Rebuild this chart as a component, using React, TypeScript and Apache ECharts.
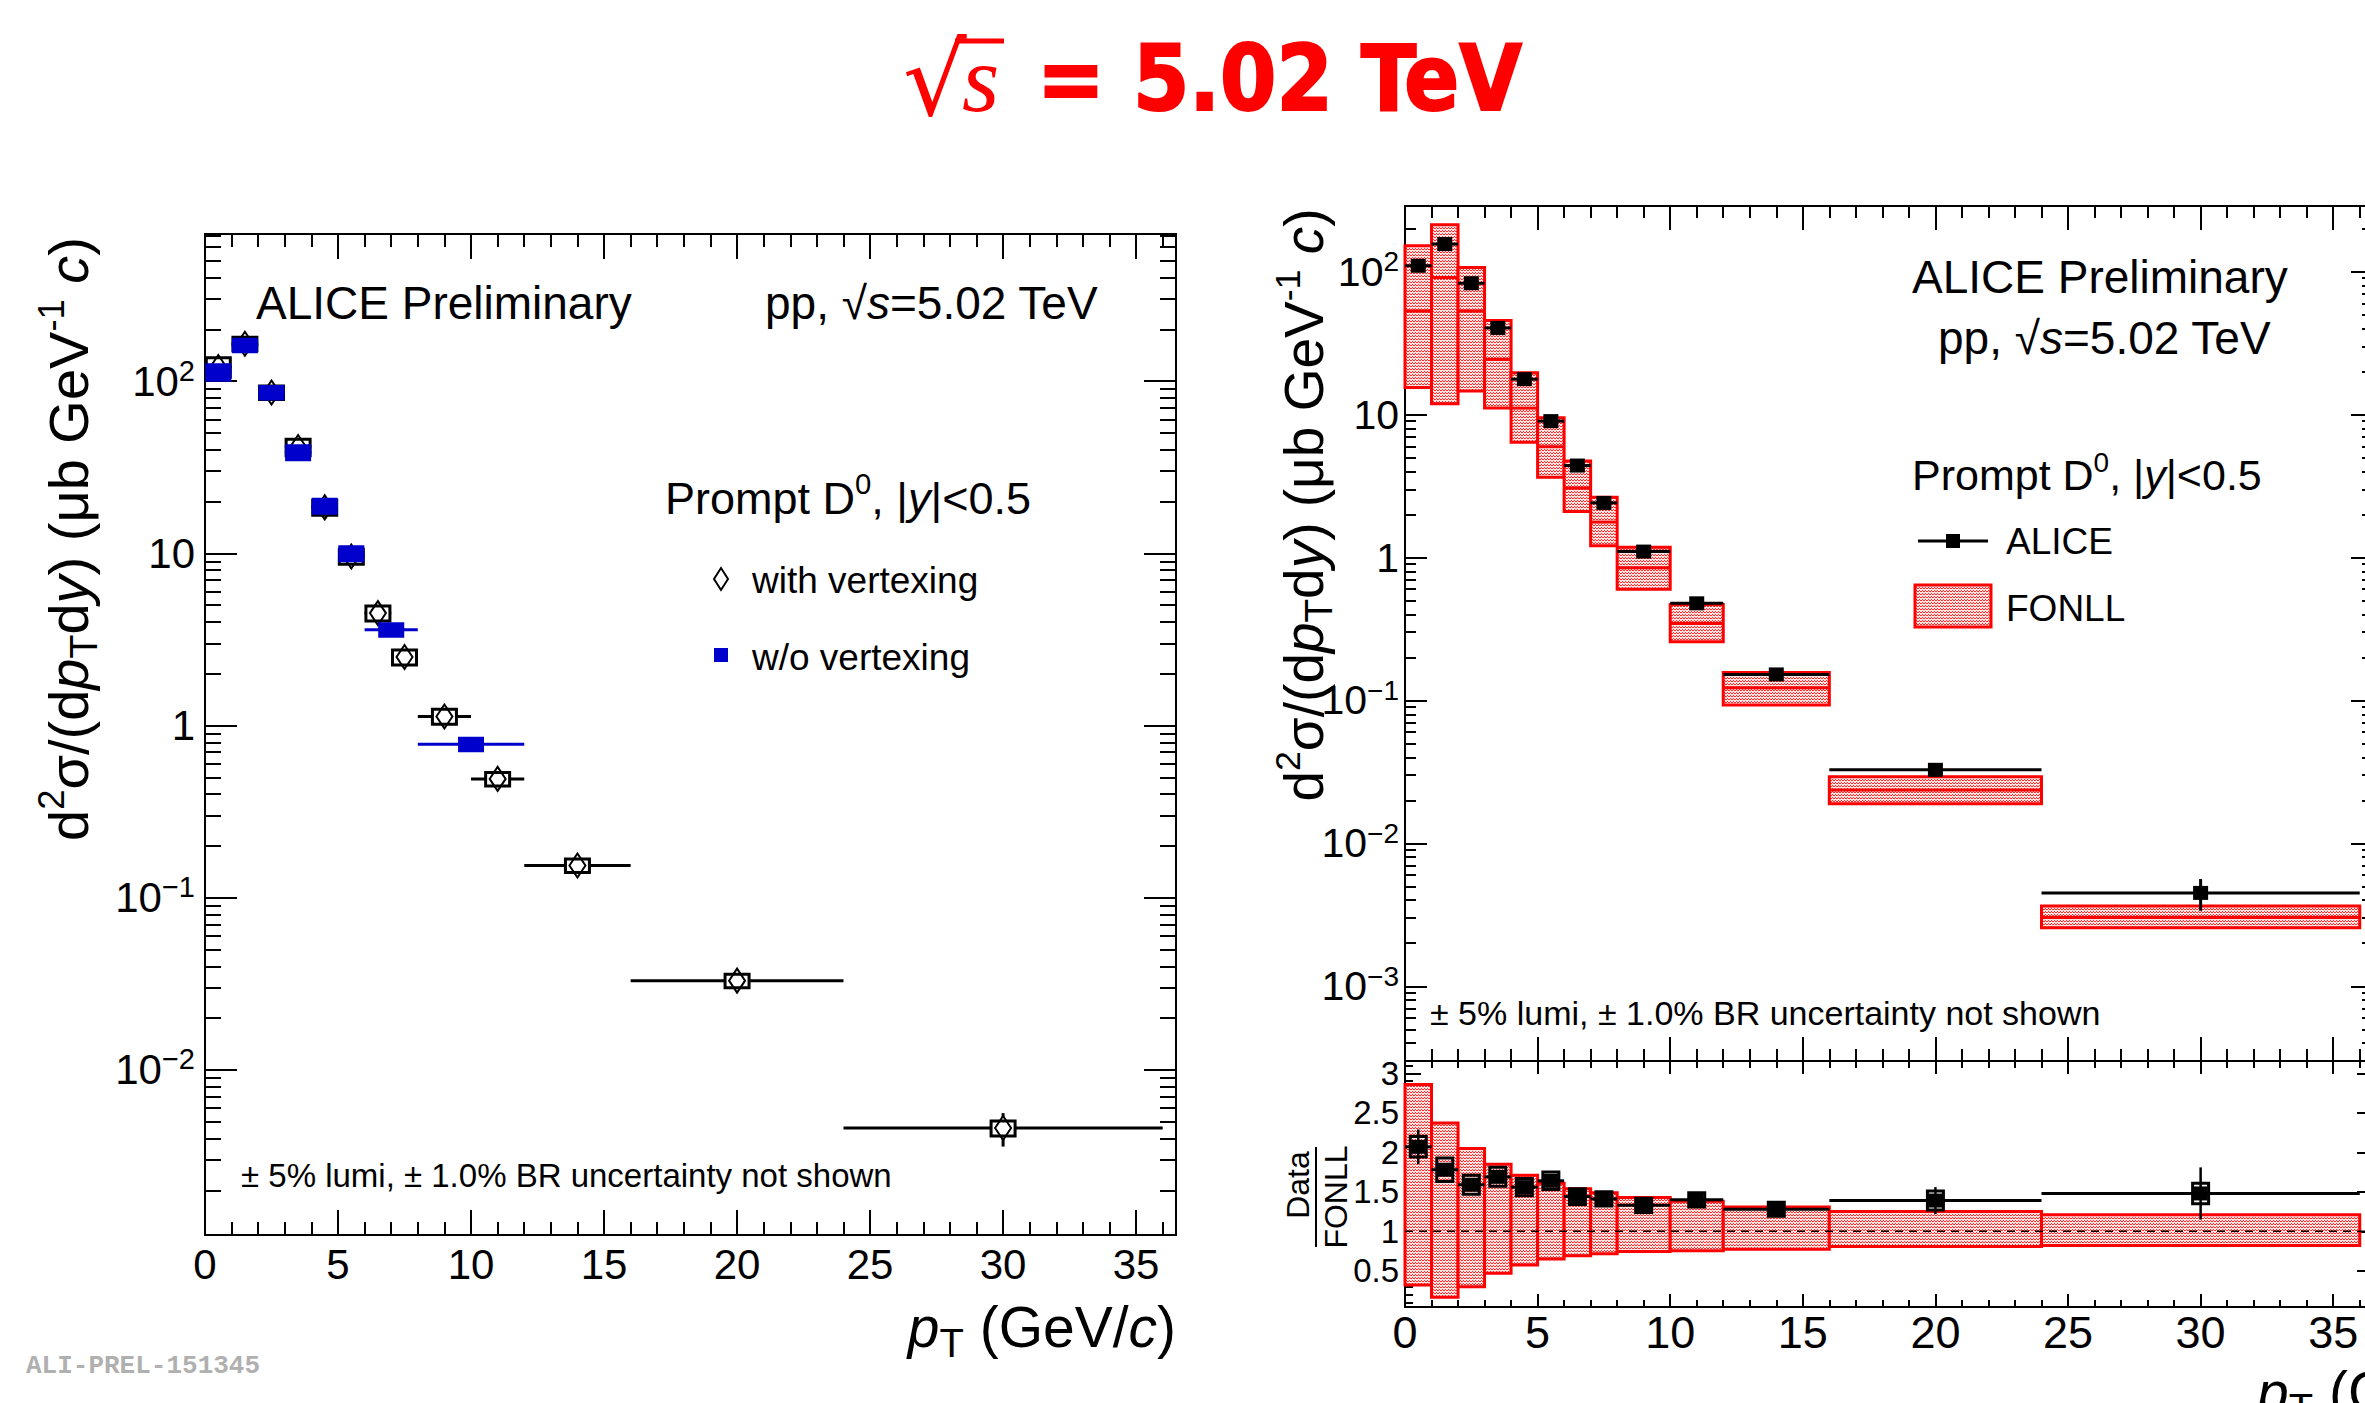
import React, { useEffect, useRef } from 'react';
import * as echarts from 'echarts';

// ---------------- data ----------------
const binLo = [0, 1, 2, 3, 4, 5, 6, 7, 8, 10, 12, 16, 24];
const binHi = [1, 2, 3, 4, 5, 6, 7, 8, 10, 12, 16, 24, 36];
const binCenter = [0.5, 1.5, 2.5, 3.5, 4.5, 5.5, 6.5, 7.5, 9, 11, 14, 20, 30];

// left panel: with vertexing (black open diamonds)
const withVtxY = [121, 165, 86, 41.5, 18.5, 9.6, 4.5, 2.5, 1.13, 0.49, 0.154, 0.033, 0.0046];
const withVtxStat = [0.08, 0.05, 0.05, 0.06, 0.06, 0.06, 0.07, 0.07, 0.08, 0.09, 0.09, 0.11, 0.22];
const withVtxSyst = [0.13, 0.09, 0.09, 0.11, 0.1, 0.1, 0.1, 0.1, 0.1, 0.09, 0.09, 0.09, 0.1];

// left panel: w/o vertexing (blue squares)
const woVtxLo = [0, 1, 2, 3, 4, 5, 6, 8];
const woVtxHi = [1, 2, 3, 4, 5, 6, 8, 12];
const woVtxCenter = [0.5, 1.5, 2.5, 3.5, 4.5, 5.5, 7, 10];
const woVtxY = [113, 162, 86, 38.6, 18.9, 10, 3.6, 0.78];
const woVtxStat = [0.06, 0.04, 0.04, 0.05, 0.05, 0.05, 0.06, 0.07];
const woVtxSyst = [0.11, 0.09, 0.09, 0.1, 0.1, 0.1, 0.09, 0.09];

// right panel: ALICE vs FONLL
const aliceY = [110, 156, 83, 40.4, 17.7, 9.0, 4.4, 2.41, 1.1, 0.478, 0.152, 0.0327, 0.0045];
const aliceStat = [0.08, 0.04, 0.04, 0.04, 0.04, 0.04, 0.05, 0.05, 0.05, 0.06, 0.07, 0.1, 0.25];
const fonllLow = [15.5, 11.9, 14.6, 11.1, 6.4, 3.65, 2.1, 1.21, 0.6, 0.257, 0.093, 0.0189, 0.00257];
const fonllCentral = [53, 91, 53, 24.3, 11.1, 5.96, 3.06, 1.77, 0.848, 0.345, 0.1226, 0.0236, 0.00303];
const fonllHigh = [152, 213, 107, 45.6, 19.6, 9.5, 4.73, 2.64, 1.18, 0.469, 0.157, 0.0292, 0.00365];

// ratio panel
const ratioData = [2.07, 1.78, 1.59, 1.69, 1.56, 1.64, 1.44, 1.41, 1.33, 1.4, 1.28, 1.39, 1.48];
const ratioStat = [0.22, 0.08, 0.06, 0.06, 0.06, 0.06, 0.06, 0.06, 0.06, 0.08, 0.08, 0.17, 0.33];
const ratioSyst = [0.13, 0.15, 0.12, 0.12, 0.11, 0.11, 0.1, 0.09, 0.09, 0.09, 0.09, 0.12, 0.13];
const ratioFonllLow = [0.32, 0.165, 0.3, 0.47, 0.576, 0.65, 0.69, 0.716, 0.745, 0.754, 0.775, 0.81, 0.82];
const ratioFonllHigh = [2.86, 2.37, 2.05, 1.85, 1.71, 1.61, 1.54, 1.49, 1.43, 1.38, 1.31, 1.25, 1.21];
const ratioRef = [[0, 1], [36.5, 1]];

// ticks
const xMajorTicks = [0, 5, 10, 15, 20, 25, 30, 35];
const xMinorTicks = [1, 2, 3, 4, 6, 7, 8, 9, 11, 12, 13, 14, 16, 17, 18, 19, 21, 22, 23, 24, 26, 27, 28, 29, 31, 32, 33, 34, 36];
const leftLogMajor = [0.01, 0.1, 1, 10, 100];
const rightLogMajor = [0.001, 0.01, 0.1, 1, 10, 100];
const logDecades = [0.0001, 0.001, 0.01, 0.1, 1, 10, 100];
const logMantissas = [2, 3, 4, 5, 6, 7, 8, 9];
const ratioMajor = [0.5, 1, 1.5, 2, 2.5, 3];
const ratioMinor = [0.1, 0.2, 0.3, 0.4, 0.6, 0.7, 0.8, 0.9, 1.1, 1.2, 1.3, 1.4, 1.6, 1.7, 1.8, 1.9, 2.1, 2.2, 2.3, 2.4, 2.6, 2.7, 2.8, 2.9, 3.1];

const SANS = "'Liberation Sans', Arial, Helvetica, sans-serif";
const RED = '#ff0000';
const BLUE = '#0000cc';

function makePattern() {
  const c = document.createElement('canvas');
  c.width = 3;
  c.height = 3;
  const ctx = c.getContext('2d');
  if (ctx) {
    ctx.fillStyle = '#ffe4e4';
    ctx.fillRect(0, 0, 3, 3);
    ctx.fillStyle = '#ff2a2a';
    ctx.fillRect(0, 0, 1, 1);
    ctx.fillRect(1, 0, 1, 1);
    ctx.fillRect(2, 2, 1, 1);
  }
  return { image: c, repeat: 'repeat', imageWidth: 3, imageHeight: 3 };
}

function logLabel(v: number) {
  const e = Math.round(Math.log10(v));
  if (e === 0) return '{b|1}';
  if (e === 1) return '{b|10}';
  return '{b|10}{s|' + (e < 0 ? '\u2212' : '') + Math.abs(e) + '}';
}

function xAxesFor(grid: number, majLen: number, minLen: number, label: any) {
  const base = (pos: string, ticks: number[], len: number, lab: any) => ({
    type: 'value', gridIndex: grid, min: 0, max: 36.5, position: pos,
    axisLine: { show: false, onZero: false }, splitLine: { show: false },
    axisTick: { show: true, inside: true, length: len, customValues: ticks, lineStyle: { color: '#000', width: 2 } },
    axisLabel: lab ? Object.assign({ customValues: ticks }, lab) : { show: false },
  });
  return [
    base('bottom', xMajorTicks, majLen, label),
    base('bottom', xMinorTicks, minLen, null),
    base('top', xMajorTicks, majLen, null),
    base('top', xMinorTicks, minLen, null),
  ];
}

function yAxesFor(grid: number, type: string, min: number, max: number, major: number[], minor: number[], majLen: number, minLen: number, label: any) {
  const base = (pos: string, ticks: number[], len: number, lab: any) => {
    const a: any = {
      type, gridIndex: grid, min, max, position: pos,
      axisLine: { show: false, onZero: false }, splitLine: { show: false },
      axisTick: { show: true, inside: true, length: len, customValues: ticks, lineStyle: { color: '#000', width: 2 } },
      axisLabel: lab ? Object.assign({ customValues: ticks }, lab) : { show: false },
    };
    if (type === 'log') a.logBase = 10;
    return a;
  };
  return [
    base('left', major, majLen, label),
    base('left', minor, minLen, null),
    base('right', major, majLen, null),
    base('right', minor, minLen, null),
  ];
}

function richText(size: number) {
  return {
    n: { fontSize: size, fontFamily: SANS, fill: '#000', lineHeight: size * 1.25 },
    i: { fontSize: size, fontFamily: SANS, fontStyle: 'italic', fill: '#000', lineHeight: size * 1.25 },
    sup: { fontSize: size * 0.65, fontFamily: SANS, fill: '#000', lineHeight: size * 0.72, verticalAlign: 'top' },
    sub: { fontSize: size * 0.7, fontFamily: SANS, fill: '#000', lineHeight: size * 0.7, verticalAlign: 'bottom' },
  };
}

function txt(x: number, y: number, text: string, size: number, extra: any = {}) {
  return {
    type: 'text', x, y, silent: true,
    style: Object.assign({ text, fontSize: size, fontFamily: SANS, fill: '#000', align: 'left', verticalAlign: 'middle' }, extra),
  };
}

function rtxt(x: number, y: number, text: string, size: number, extra: any = {}) {
  return txt(x, y, text, size, Object.assign({ rich: richText(size) }, extra));
}

function buildOption() {
  const pattern = makePattern();
  const minorLog = logDecades.flatMap((d) => logMantissas.map((m) => parseFloat((m * d).toPrecision(3))));

  const leftXLabel = { show: true, fontSize: 42, fontFamily: SANS, color: '#000', margin: 8 };
  const ratioXLabel = { show: true, fontSize: 45, fontFamily: SANS, color: '#000', margin: 3 };
  const leftYLabel = {
    show: true, margin: 10, formatter: logLabel,
    rich: {
      b: { fontSize: 42, fontFamily: SANS, color: '#000', lineHeight: 50 },
      s: { fontSize: 29, fontFamily: SANS, color: '#000', lineHeight: 26, verticalAlign: 'top' },
    },
  };
  const rightYLabel = {
    show: true, margin: 6, formatter: logLabel,
    rich: {
      b: { fontSize: 41, fontFamily: SANS, color: '#000', lineHeight: 48 },
      s: { fontSize: 28, fontFamily: SANS, color: '#000', lineHeight: 24, verticalAlign: 'top' },
    },
  };
  const ratioYLabel = { show: true, margin: 6, fontSize: 33, fontFamily: SANS, color: '#000', formatter: (v: number) => String(v) };

  const xAxis = [
    ...xAxesFor(0, 25, 13, leftXLabel),
    ...xAxesFor(1, 24, 12, null),
    ...xAxesFor(2, 13, 7, ratioXLabel),
  ];
  const yAxis = [
    ...yAxesFor(0, 'log', 1.1e-3, 716, leftLogMajor, minorLog, 32, 16, leftYLabel),
    ...yAxesFor(1, 'log', 3.0e-4, 288, rightLogMajor, minorLog, 22, 11, rightYLabel),
    ...yAxesFor(2, 'value', 0.043, 3.156, ratioMajor, ratioMinor, 16, 8, ratioYLabel),
  ];

  const gridBase = { show: true, borderColor: '#000', borderWidth: 2, backgroundColor: 'transparent', containLabel: false, outerBoundsMode: 'none' };
  const grid = [
    Object.assign({ left: 205, top: 234, width: 971, height: 1001 }, gridBase),
    Object.assign({ left: 1405, top: 206, width: 968, height: 855 }, gridBase),
    Object.assign({ left: 1405, top: 1061, width: 968, height: 246 }, gridBase),
  ];

  const withVtxData = binCenter.map((c, i) => [c, withVtxY[i], binLo[i], binHi[i], withVtxStat[i], withVtxSyst[i]]);
  const woVtxData = woVtxCenter.map((c, i) => [c, woVtxY[i], woVtxLo[i], woVtxHi[i], woVtxStat[i], woVtxSyst[i]]);
  const aliceData = binCenter.map((c, i) => [c, aliceY[i], binLo[i], binHi[i], aliceStat[i]]);
  const fonllData = binLo.map((lo, i) => [lo, binHi[i], fonllLow[i], fonllCentral[i], fonllHigh[i]]);
  const ratioFonllData = binLo.map((lo, i) => [lo, binHi[i], ratioFonllLow[i], ratioFonllHigh[i]]);
  const ratioPoints = binCenter.map((c, i) => [c, ratioData[i], binLo[i], binHi[i], ratioStat[i], ratioSyst[i]]);

  const series: any[] = [
    {
      type: 'custom', name: 'with vertexing', xAxisIndex: 0, yAxisIndex: 0, silent: true, z: 3,
      encode: { x: 0, y: 1 }, data: withVtxData,
      renderItem: (params: any, api: any) => {
        const x = api.value(0), y = api.value(1), lo = api.value(2), hi = api.value(3), st = api.value(4), sy = api.value(5);
        const p = api.coord([x, y]);
        const pl = api.coord([lo, y]);
        const ph = api.coord([hi, y]);
        const su = api.coord([x, y * (1 + st)]);
        const sd = api.coord([x, y * (1 - st)]);
        const bu = api.coord([x, y * (1 + sy)]);
        const bd = api.coord([x, y * (1 - sy)]);
        const hw = 12;
        return {
          type: 'group', children: [
            { type: 'line', shape: { x1: pl[0], y1: p[1], x2: ph[0], y2: p[1] }, style: { stroke: '#000', lineWidth: 3 } },
            { type: 'line', shape: { x1: p[0], y1: su[1], x2: p[0], y2: sd[1] }, style: { stroke: '#000', lineWidth: 3 } },
            { type: 'rect', shape: { x: p[0] - hw, y: bu[1], width: 2 * hw, height: bd[1] - bu[1] }, style: { fill: '#fff', stroke: null } },
            { type: 'polygon', shape: { points: [[p[0], p[1] - 12], [p[0] + 8, p[1]], [p[0], p[1] + 12], [p[0] - 8, p[1]]] }, style: { fill: '#fff', stroke: '#000', lineWidth: 2 } },
            { type: 'rect', shape: { x: p[0] - hw, y: bu[1], width: 2 * hw, height: bd[1] - bu[1] }, style: { fill: 'none', stroke: '#000', lineWidth: 3 } },
          ],
        };
      },
    },
    {
      type: 'custom', name: 'w/o vertexing', xAxisIndex: 0, yAxisIndex: 0, silent: true, z: 4,
      encode: { x: 0, y: 1 }, data: woVtxData,
      renderItem: (params: any, api: any) => {
        const x = api.value(0), y = api.value(1), lo = api.value(2), hi = api.value(3), st = api.value(4), sy = api.value(5);
        const p = api.coord([x, y]);
        const pl = api.coord([lo, y]);
        const ph = api.coord([hi, y]);
        const su = api.coord([x, y * (1 + st)]);
        const sd = api.coord([x, y * (1 - st)]);
        const bu = api.coord([x, y * (1 + sy)]);
        const bd = api.coord([x, y * (1 - sy)]);
        const hw = 12;
        return {
          type: 'group', children: [
            { type: 'line', shape: { x1: pl[0], y1: p[1], x2: ph[0], y2: p[1] }, style: { stroke: BLUE, lineWidth: 3 } },
            { type: 'line', shape: { x1: p[0], y1: su[1], x2: p[0], y2: sd[1] }, style: { stroke: BLUE, lineWidth: 3 } },
            { type: 'rect', shape: { x: p[0] - hw, y: bu[1], width: 2 * hw, height: bd[1] - bu[1] }, style: { fill: BLUE, stroke: BLUE, lineWidth: 2 } },
          ],
        };
      },
    },
    {
      type: 'custom', name: 'FONLL', xAxisIndex: 4, yAxisIndex: 4, silent: true, z: 2,
      encode: { x: [0, 1], y: [2, 3, 4] }, data: fonllData,
      renderItem: (params: any, api: any) => {
        const lo = api.value(0), hi = api.value(1), low = api.value(2), cen = api.value(3), high = api.value(4);
        const a = api.coord([lo, high]);
        const b = api.coord([hi, low]);
        const c = api.coord([lo, cen]);
        return {
          type: 'group', children: [
            { type: 'rect', shape: { x: a[0], y: a[1], width: b[0] - a[0], height: b[1] - a[1] }, style: { fill: pattern, stroke: RED, lineWidth: 3 } },
            { type: 'line', shape: { x1: a[0], y1: c[1], x2: b[0], y2: c[1] }, style: { stroke: RED, lineWidth: 3 } },
          ],
        };
      },
    },
    {
      type: 'custom', name: 'ALICE', xAxisIndex: 4, yAxisIndex: 4, silent: true, z: 4,
      encode: { x: 0, y: 1 }, data: aliceData,
      renderItem: (params: any, api: any) => {
        const x = api.value(0), y = api.value(1), lo = api.value(2), hi = api.value(3), st = api.value(4);
        const p = api.coord([x, y]);
        const pl = api.coord([lo, y]);
        const ph = api.coord([hi, y]);
        const su = api.coord([x, y * (1 + st)]);
        const sd = api.coord([x, y * (1 - st)]);
        return {
          type: 'group', children: [
            { type: 'line', shape: { x1: pl[0], y1: p[1], x2: ph[0], y2: p[1] }, style: { stroke: '#000', lineWidth: 3 } },
            { type: 'line', shape: { x1: p[0], y1: su[1], x2: p[0], y2: sd[1] }, style: { stroke: '#000', lineWidth: 3 } },
            { type: 'rect', shape: { x: p[0] - 7.5, y: p[1] - 7, width: 15, height: 14 }, style: { fill: '#000' } },
          ],
        };
      },
    },
    {
      type: 'custom', name: 'FONLL ratio', xAxisIndex: 8, yAxisIndex: 8, silent: true, z: 2,
      encode: { x: [0, 1], y: [2, 3] }, data: ratioFonllData,
      renderItem: (params: any, api: any) => {
        const lo = api.value(0), hi = api.value(1), low = api.value(2), high = api.value(3);
        const a = api.coord([lo, high]);
        const b = api.coord([hi, low]);
        return { type: 'rect', shape: { x: a[0], y: a[1], width: b[0] - a[0], height: b[1] - a[1] }, style: { fill: pattern, stroke: RED, lineWidth: 3 } };
      },
    },
    {
      type: 'line', name: 'unity', xAxisIndex: 8, yAxisIndex: 8, silent: true, z: 3, symbol: 'none',
      data: ratioRef, lineStyle: { color: '#000', width: 1.5, type: [8, 6] },
    },
    {
      type: 'custom', name: 'Data/FONLL', xAxisIndex: 8, yAxisIndex: 8, silent: true, z: 4,
      encode: { x: 0, y: 1 }, data: ratioPoints,
      renderItem: (params: any, api: any) => {
        const x = api.value(0), y = api.value(1), lo = api.value(2), hi = api.value(3), st = api.value(4), sy = api.value(5);
        const p = api.coord([x, y]);
        const pl = api.coord([lo, y]);
        const ph = api.coord([hi, y]);
        const su = api.coord([x, y + st]);
        const sd = api.coord([x, y - st]);
        const bu = api.coord([x, y + sy]);
        const bd = api.coord([x, y - sy]);
        return {
          type: 'group', children: [
            { type: 'line', shape: { x1: pl[0], y1: p[1], x2: ph[0], y2: p[1] }, style: { stroke: '#000', lineWidth: 3 } },
            { type: 'line', shape: { x1: p[0], y1: su[1], x2: p[0], y2: sd[1] }, style: { stroke: '#000', lineWidth: 2.5 } },
            { type: 'rect', shape: { x: p[0] - 8, y: bu[1], width: 16, height: bd[1] - bu[1] }, style: { fill: 'none', stroke: '#000', lineWidth: 3 } },
            { type: 'rect', shape: { x: p[0] - 7, y: p[1] - 7, width: 14, height: 14 }, style: { fill: '#000' } },
          ],
        };
      },
    },
  ];

  const yTitle = '{n|d}{sup|2}{n|\u03c3/(d}{i|p}{sub|T}{n|d}{i|y}{n|) (\u03bcb GeV}{sup|-1}{n| }{i|c}{n|)}';
  const xTitle = '{i|p}{sub|T}{n| (GeV/}{i|c}{n|)}';
  const ppText = '{n|pp, \u221a}{i|s}{n|=5.02 TeV}';
  const promptText = '{n|Prompt D}{sup|0}{n|, |}{i|y}{n||<0.5}';
  const note = '\u00b1 5% lumi, \u00b1 1.0% BR uncertainty not shown';

  const leftYTitle = rtxt(68, 539, yTitle, 56, { align: 'center' });
  const rightYTitle = rtxt(1304, 505, yTitle, 55, { align: 'center' });
  const dataTxt = txt(1298, 1185, 'Data', 32, { align: 'center' });
  const fonllTxt = txt(1336, 1197, 'FONLL', 32, { align: 'center' });
  [leftYTitle, rightYTitle, dataTxt, fonllTxt].forEach((g: any) => { g.rotation = Math.PI / 2; });

  const graphic: any[] = [
    // main title
    { type: 'text', x: 903, y: 80, silent: true, style: { text: '\u221a', fontSize: 100, fontFamily: "'DejaVu Serif', serif", fill: RED, align: 'left', verticalAlign: 'middle' } },
    { type: 'line', silent: true, shape: { x1: 955, y1: 41, x2: 1004, y2: 41 }, style: { stroke: RED, lineWidth: 5 } },
    { type: 'text', x: 962, y: 78, silent: true, style: { text: 's', fontSize: 96, fontStyle: 'italic', fontFamily: "'Liberation Serif', serif", fill: RED, align: 'left', verticalAlign: 'middle' } },
    { type: 'text', x: 1037, y: 78, silent: true, style: { text: '= 5.02 TeV', fontSize: 90, fontWeight: 'bold', fontFamily: "'DejaVu Sans Condensed', 'DejaVu Sans', sans-serif", fill: RED, stroke: RED, lineWidth: 2, align: 'left', verticalAlign: 'middle' } },

    // left panel texts
    txt(256, 303, 'ALICE Preliminary', 46),
    rtxt(765, 303, ppText, 46),
    rtxt(665, 498, promptText, 45),
    { type: 'polygon', silent: true, shape: { points: [[721, 568], [728, 579], [721, 590], [714, 579]] }, style: { fill: '#fff', stroke: '#000', lineWidth: 2 } },
    txt(752, 580, 'with vertexing', 37),
    { type: 'rect', silent: true, shape: { x: 714, y: 648, width: 14, height: 14 }, style: { fill: BLUE } },
    txt(752, 657, 'w/o vertexing', 37),
    txt(241, 1175, note, 33),
    leftYTitle,
    rtxt(1176, 1327, xTitle, 57, { align: 'right' }),
    txt(26, 1366, 'ALI-PREL-151345', 26, { fontFamily: "'Liberation Mono', 'DejaVu Sans Mono', monospace", fontWeight: 'bold', fill: '#b0b0b0' }),

    // right panel texts
    txt(1912, 277, 'ALICE Preliminary', 46),
    rtxt(1938, 338, ppText, 46),
    rtxt(1912, 475, promptText, 43),
    { type: 'line', silent: true, shape: { x1: 1918, y1: 541, x2: 1988, y2: 541 }, style: { stroke: '#000', lineWidth: 3 } },
    { type: 'rect', silent: true, shape: { x: 1946, y: 534, width: 14, height: 14 }, style: { fill: '#000' } },
    txt(2006, 541, 'ALICE', 37),
    { type: 'rect', silent: true, shape: { x: 1915, y: 585, width: 76, height: 42 }, style: { fill: pattern, stroke: RED, lineWidth: 3 } },
    txt(2006, 608, 'FONLL', 37),
    txt(1430, 1013, note, 34),
    rightYTitle,
    rtxt(2257, 1392, xTitle, 57, { align: 'left' }),
    // ratio y title (fraction)
    dataTxt,
    fonllTxt,
    { type: 'line', silent: true, shape: { x1: 1316, y1: 1147, x2: 1316, y2: 1247 }, style: { stroke: '#000', lineWidth: 2 } },
  ];

  return {
    animation: false,
    backgroundColor: '#ffffff',
    grid,
    xAxis,
    yAxis,
    series,
    graphic,
  };
}

export default function App() {
  const ref = useRef<HTMLDivElement>(null);
  useEffect(() => {
    if (!ref.current) return;
    const chart = echarts.init(ref.current, null, { renderer: 'svg' });
    chart.setOption(buildOption() as any);
    return () => chart.dispose();
  }, []);
  return (
    <div
      ref={ref}
      style={{ position: 'fixed', left: 0, top: 0, width: 2365, height: 1403, background: '#fff' }}
    />
  );
}
